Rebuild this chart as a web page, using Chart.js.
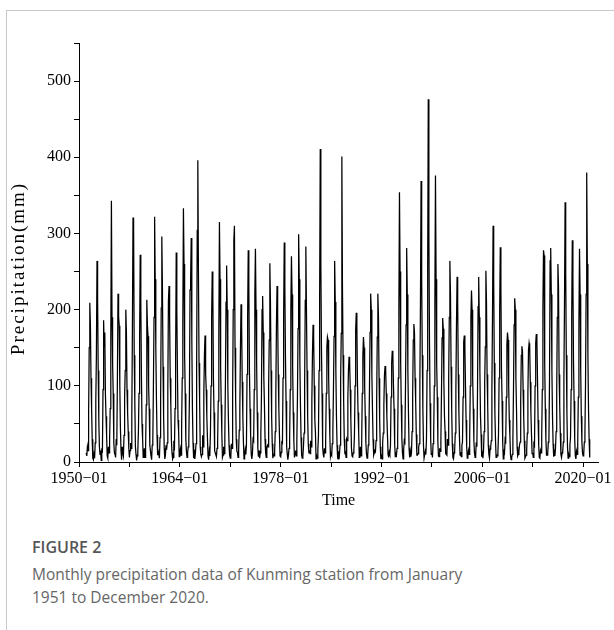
<!DOCTYPE html>
<html>
<head>
<meta charset="utf-8">
<script src="https://cdn.jsdelivr.net/npm/chart.js@4.4.1/dist/chart.umd.min.js"></script>
<style>
  html, body { margin: 0; padding: 0; background: #fff; }
  body { width: 614px; height: 630px; position: relative; overflow: hidden; }
  #frameTop { position: absolute; left: 6px; top: 10px; width: 608px; height: 1px; background: #c8c8c8; }
  #frameLeft { position: absolute; left: 6px; top: 10px; width: 1px; height: 620px; background: #c8c8c8; }
  #wrap { position: absolute; left: 0; top: 0; width: 614px; height: 520px; }
  #figLabel { position: absolute; left: 32px; top: 536px; font-family: "Open Sans", sans-serif; font-weight: 600; font-size: 16px; color: #555; line-height: 22px; }
  #figCaption { position: absolute; left: 32px; top: 563px; width: 570px; font-family: "Open Sans", sans-serif; font-size: 15.5px; color: #666; line-height: 23px; }
</style>
</head>
<body>
<div id="frameTop"></div>
<div id="frameLeft"></div>
<div id="wrap"><canvas id="c" width="614" height="520"></canvas></div>
<div id="figLabel">FIGURE 2</div>
<div id="figCaption">Monthly precipitation data of Kunming station from January<br>1951 to December 2020.</div>
<script>
// Monthly precipitation (mm), Jan..Dec for each year
const startYear = 1951;
const rain1951_1960 = [
  12, 8, 20, 15, 60, 150, 209, 180, 110, 70, 30, 5,
  3, 10, 5, 25, 80, 140, 264, 215, 120, 55, 20, 10,
  15, 2, 18, 12, 95, 186, 152, 170, 90, 60, 35, 8,
  5, 20, 12, 30, 70, 160, 343, 190, 130, 90, 25, 12,
  10, 6, 30, 22, 110, 221, 191, 179, 100, 45, 15, 3,
  20, 12, 8, 35, 85, 120, 200, 170, 95, 65, 40, 18,
  6, 15, 25, 18, 60, 175, 321, 307, 140, 80, 20, 10,
  2, 8, 14, 40, 90, 160, 272, 210, 115, 50, 30, 6,
  12, 18, 6, 20, 75, 213, 180, 165, 100, 70, 22, 15,
  8, 3, 22, 28, 100, 190, 322, 240, 150, 85, 35, 9
];
const rain1961_1970 = [
  14, 10, 5, 32, 80, 202, 296, 230, 125, 60, 18, 4,
  9, 22, 16, 25, 95, 211, 231, 190, 110, 75, 28, 12,
  4, 6, 28, 15, 70, 134, 275, 200, 120, 55, 40, 7,
  11, 17, 9, 45, 110, 180, 333, 260, 140, 90, 30, 14,
  6, 12, 20, 30, 85, 226, 240, 294, 160, 70, 25, 5,
  16, 4, 12, 24, 120, 304, 396, 250, 130, 80, 20, 10,
  7, 10, 35, 20, 90, 140, 166, 117, 95, 60, 32, 8,
  3, 14, 8, 38, 100, 190, 250, 221, 110, 65, 15, 12,
  12, 7, 18, 26, 80, 170, 315, 240, 125, 75, 38, 6,
  9, 20, 11, 34, 105, 210, 258, 200, 100, 55, 22, 9
];
const rain1971_1980 = [
  5, 8, 24, 18, 90, 200, 291, 310, 150, 85, 30, 14,
  13, 6, 15, 42, 70, 147, 207, 180, 105, 60, 26, 4,
  8, 16, 10, 22, 115, 190, 278, 230, 120, 70, 35, 10,
  4, 11, 30, 28, 95, 220, 280, 200, 130, 65, 18, 7,
  15, 5, 12, 36, 85, 200, 218, 170, 110, 75, 30, 12,
  6, 19, 22, 20, 100, 160, 261, 210, 120, 60, 24, 5,
  10, 8, 14, 40, 90, 180, 231, 195, 115, 70, 36, 8,
  7, 13, 26, 25, 110, 191, 288, 230, 140, 80, 20, 11,
  3, 9, 18, 32, 95, 200, 270, 220, 125, 65, 28, 6,
  12, 15, 8, 27, 85, 175, 299, 240, 135, 75, 32, 9
];
const rain1981_1990 = [
  5, 7, 20, 38, 105, 212, 283, 200, 120, 60, 24, 13,
  14, 11, 28, 20, 80, 140, 180, 165, 100, 55, 38, 4,
  8, 5, 16, 34, 120, 220, 411, 260, 150, 90, 20, 10,
  6, 18, 12, 26, 90, 150, 164, 160, 110, 70, 34, 7,
  11, 9, 24, 40, 95, 165, 264, 210, 120, 60, 22, 5,
  4, 14, 10, 22, 110, 169, 401, 230, 140, 80, 30, 12,
  13, 6, 30, 28, 85, 120, 138, 130, 95, 55, 18, 8,
  7, 12, 15, 36, 100, 173, 196, 180, 105, 65, 40, 6,
  10, 20, 8, 24, 90, 140, 164, 150, 100, 60, 26, 11,
  5, 8, 22, 32, 95, 170, 221, 200, 115, 70, 30, 9
];
const rain1991_2000 = [
  12, 15, 14, 28, 80, 164, 221, 190, 110, 55, 20, 4,
  8, 4, 26, 38, 75, 114, 126, 120, 90, 60, 35, 10,
  6, 13, 10, 22, 85, 130, 146, 140, 100, 70, 24, 7,
  11, 9, 18, 34, 110, 200, 354, 250, 130, 75, 30, 12,
  4, 16, 28, 26, 95, 180, 281, 220, 120, 65, 18, 6,
  14, 7, 12, 40, 90, 160, 181, 170, 110, 80, 36, 9,
  9, 11, 20, 24, 105, 210, 369, 240, 140, 70, 22, 5,
  5, 14, 10, 30, 120, 250, 476, 300, 160, 77, 30, 10,
  12, 6, 24, 36, 100, 209, 376, 240, 130, 85, 26, 8,
  7, 18, 14, 28, 90, 163, 189, 175, 105, 60, 40, 11
];
const rain2001_2010 = [
  10, 9, 30, 22, 110, 190, 264, 220, 125, 70, 24, 6,
  4, 12, 16, 38, 95, 180, 243, 210, 115, 65, 32, 9,
  13, 7, 22, 26, 85, 157, 166, 150, 100, 55, 20, 5,
  8, 15, 10, 34, 100, 190, 225, 200, 110, 70, 28, 12,
  6, 10, 26, 20, 90, 204, 243, 190, 120, 60, 36, 7,
  11, 5, 14, 40, 105, 151, 251, 210, 115, 75, 22, 10,
  5, 17, 20, 28, 95, 190, 310, 240, 130, 65, 30, 6,
  9, 8, 12, 36, 110, 200, 282, 230, 120, 80, 26, 4,
  14, 12, 28, 24, 85, 154, 170, 160, 100, 55, 34, 9,
  3, 6, 10, 30, 95, 180, 215, 200, 110, 70, 20, 8
];
const rain2011_2020 = [
  10, 14, 22, 26, 80, 140, 152, 145, 95, 60, 28, 5,
  7, 9, 16, 38, 90, 147, 156, 150, 105, 65, 36, 11,
  12, 6, 24, 22, 100, 156, 168, 160, 110, 55, 22, 6,
  5, 15, 12, 34, 95, 200, 278, 271, 130, 70, 30, 9,
  9, 11, 26, 28, 105, 264, 281, 220, 120, 60, 24, 7,
  13, 8, 18, 40, 90, 190, 260, 230, 115, 75, 38, 10,
  6, 12, 14, 26, 110, 210, 341, 250, 140, 65, 20, 5,
  10, 7, 22, 32, 95, 190, 291, 240, 130, 80, 30, 8,
  4, 14, 10, 24, 85, 180, 280, 220, 120, 60, 26, 12,
  8, 10, 26, 36, 100, 220, 380, 260, 140, 70, 30, 6
];

const xTickValues = [1950, 1957, 1964, 1971, 1978, 1985, 1992, 1999, 2006, 2013, 2020];
const xTickLabels = ['1950\u221201', '', '1964\u221201', '', '1978\u221201', '', '1992\u221201', '', '2006\u221201', '', '2020\u221201'];
const yTickValues = [0, 50, 100, 150, 200, 250, 300, 350, 400, 450, 500, 550];
const yTickLabels = ['0', '', '100', '', '200', '', '300', '', '400', '', '500', ''];

const allRain = [].concat(rain1951_1960, rain1961_1970, rain1971_1980, rain1981_1990, rain1991_2000, rain2001_2010, rain2011_2020);
const points = allRain.map((v, i) => ({ x: startYear + i / 12, y: v }));

const serif = "'Liberation Serif', 'Times New Roman', serif";

function spacedTitle(s) {
  if (s._spacedTitle) return;
  s._spacedTitle = true;
  const orig = s.drawTitle;
  s.drawTitle = function () {
    const ctx = this.ctx;
    ctx.save();
    ctx.letterSpacing = '2px';
    ctx.translate(0, 16);
    orig.call(this);
    ctx.restore();
  };
}

new Chart(document.getElementById('c'), {
  type: 'line',
  data: {
    datasets: [{
      data: points,
      borderColor: '#000',
      borderWidth: 1.25,
      pointRadius: 0,
      tension: 0,
      fill: false
    }]
  },
  options: {
    responsive: false,
    animation: false,
    layout: { padding: { top: 43, right: 13, left: 0, bottom: 0 } },
    plugins: { legend: { display: false }, tooltip: { enabled: false } },
    scales: {
      x: {
        type: 'linear',
        min: 1950,
        max: 2022.1,
        afterFit: s => { s.height = 58; },
        afterBuildTicks: s => { s.ticks = xTickValues.map(v => ({ value: v })); },
        ticks: {
          autoSkip: false, maxRotation: 0, padding: 2,
          color: '#000',
          font: { family: serif, size: 16 },
          callback: (v, i) => xTickLabels[i]
        },
        grid: { drawOnChartArea: false, drawTicks: true, tickLength: 5, color: '#000', lineWidth: 1 },
        border: { display: true, color: '#000', width: 1 },
        title: { display: true, text: 'Time', color: '#000', font: { family: serif, size: 16 }, padding: { top: 0, bottom: 10 } }
      },
      y: {
        min: 0,
        max: 550,
        afterFit: s => { s.width = 79; spacedTitle(s); },
        afterBuildTicks: s => { s.ticks = yTickValues.map(v => ({ value: v })); },
        ticks: {
          autoSkip: false, padding: 3,
          color: '#000',
          font: { family: serif, size: 16 },
          callback: (v, i) => yTickLabels[i]
        },
        grid: { drawOnChartArea: false, drawTicks: true, tickLength: 5, color: '#000', lineWidth: 1 },
        border: { display: true, color: '#000', width: 1 },
        title: { display: true, text: 'Precipitation(mm)', color: '#000', font: { family: serif, size: 19 }, padding: { top: 8, bottom: 0 } }
      }
    }
  }
});
</script>
</body>
</html>
